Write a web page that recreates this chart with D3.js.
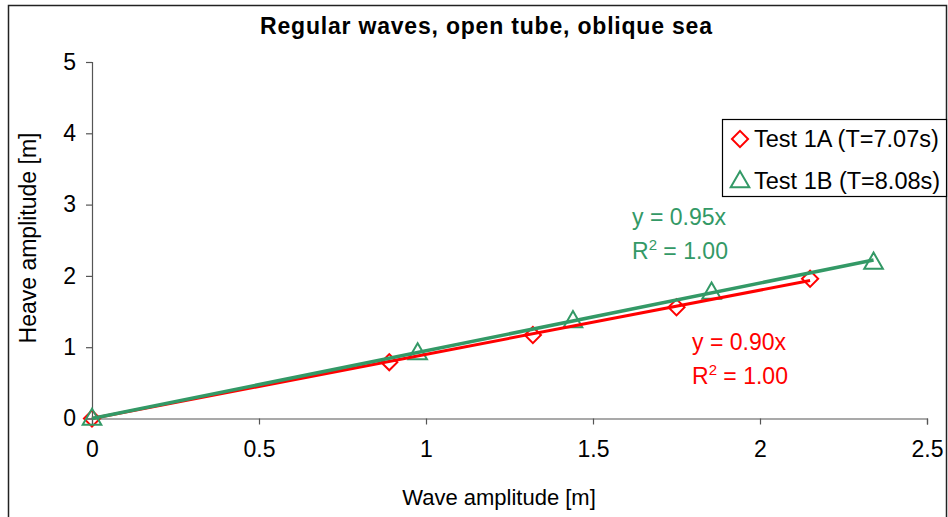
<!DOCTYPE html>
<html>
<head>
<meta charset="utf-8">
<script src="https://cdn.jsdelivr.net/npm/d3@7/dist/d3.min.js"></script>
<style>
  html, body { margin: 0; padding: 0; background: #fff; }
  svg { display: block; font-family: Arial, "Liberation Sans", sans-serif; }
</style>
</head>
<body>
<svg id="chart" width="948" height="517"></svg>
<script>
// Wave amplitude [m] and measured heave amplitude [m] for each test
const test1A_x = [0, 0.89, 1.32, 1.75, 2.15];
const test1A_y = [0, 0.79, 1.17, 1.56, 1.96];
const test1B_x = [0, 0.975, 1.44, 1.855, 2.34];
const test1B_y = [0, 0.92, 1.37, 1.77, 2.19];

// Linear fits through the origin
const slope1A = 0.90;
const slope1B = 0.95;

const xTicks = [0, 0.5, 1, 1.5, 2, 2.5];
const yTicks = [0, 1, 2, 3, 4, 5];

const legendLabels = ["Test 1A (T=7.07s)", "Test 1B (T=8.08s)"];
const titleText = "Regular waves, open tube, oblique sea";
const xTitle = "Wave amplitude [m]";
const yTitle = "Heave amplitude [m]";

const RED = "#ff0000";
const GREEN = "#339966";

const svg = d3.select("#chart");

// outer chart frame
svg.append("rect")
  .attr("x", 8.5).attr("y", 5.5)
  .attr("width", 938).attr("height", 530)
  .attr("fill", "#fff").attr("stroke", "#222").attr("stroke-width", 1.5);

const plot = { left: 92, right: 927, top: 62, bottom: 418.5 };

const x = d3.scaleLinear().domain([0, 2.5]).range([plot.left, plot.right]);
const y = d3.scaleLinear().domain([0, 5]).range([plot.bottom, plot.top]);

// axes
const xAxis = svg.append("g")
  .attr("transform", `translate(0,${plot.bottom})`)
  .call(d3.axisBottom(x).tickValues(xTicks).tickSize(6).tickPadding(12)
        .tickFormat(d3.format("~g")));
const yAxis = svg.append("g")
  .attr("transform", `translate(${plot.left},0)`)
  .call(d3.axisLeft(y).tickValues(yTicks).tickSize(6).tickPadding(10)
        .tickFormat(d3.format("~g")));

[xAxis, yAxis].forEach(a => {
  a.select(".domain").attr("stroke", "#555").attr("stroke-width", 1.2);
  a.selectAll(".tick line").attr("stroke", "#555").attr("stroke-width", 1.2);
  a.selectAll(".tick text")
    .attr("fill", "#000")
    .attr("font-size", 23)
    .attr("font-family", "Arial, 'Liberation Sans', sans-serif");
});
xAxis.selectAll(".tick text").attr("dy", "0.9em");

// title
svg.append("text")
  .attr("x", 486).attr("y", 34)
  .attr("text-anchor", "middle")
  .attr("font-size", 23).attr("font-weight", "bold")
  .attr("textLength", 452).attr("lengthAdjust", "spacing")
  .text(titleText);

// axis titles
svg.append("text")
  .attr("x", 499).attr("y", 505)
  .attr("text-anchor", "middle")
  .attr("font-size", 22)
  .text(xTitle);

svg.append("text")
  .attr("transform", "translate(36,238) rotate(-90)")
  .attr("text-anchor", "middle")
  .attr("font-size", 23)
  .text(yTitle);

// marker shapes
const diamond = d3.symbol().type(d3.symbolSquare).size(130);
const triangle = d3.symbol().type(d3.symbolTriangle).size(150);

function drawSeries(xs, ys, color, sym) {
  svg.append("g").selectAll("path")
    .data(xs.map((v, i) => [v, ys[i]]))
    .join("path")
    .attr("d", sym)
    .attr("transform", d => sym === diamond
      ? `translate(${x(d[0])},${y(d[1])}) rotate(45)`
      : `translate(${x(d[0])},${y(d[1]) + 1})`)
    .attr("fill", "none")
    .attr("stroke", color)
    .attr("stroke-width", 2);
}

drawSeries(test1A_x, test1A_y, RED, diamond);
drawSeries(test1B_x, test1B_y, GREEN, triangle);

// trend lines
function drawTrend(xs, slope, color, w) {
  const xMax = d3.max(xs);
  svg.append("line")
    .attr("x1", x(0)).attr("y1", y(0))
    .attr("x2", x(xMax)).attr("y2", y(slope * xMax))
    .attr("stroke", color).attr("stroke-width", w)
    .attr("stroke-linecap", "butt");
}
drawTrend(test1A_x, slope1A, RED, 3);
drawTrend(test1B_x, slope1B, GREEN, 3.5);

// trend line equations
function drawEquation(x0, yb, slope, color) {
  const g = svg.append("g").attr("fill", color).attr("font-size", 23);
  g.append("text").attr("x", x0).attr("y", yb)
    .text(`y = ${d3.format(".2f")(slope)}x`);
  const t = g.append("text").attr("x", x0).attr("y", yb + 34);
  t.append("tspan").text("R");
  t.append("tspan").attr("font-size", 15).attr("dy", -9).text("2");
  t.append("tspan").attr("dy", 9).text(" = 1.00");
}
drawEquation(632, 225, slope1B, GREEN);
drawEquation(692, 350, slope1A, RED);

// legend
const legend = svg.append("g");
legend.append("rect")
  .attr("x", 722.5).attr("y", 119.5)
  .attr("width", 224).attr("height", 77)
  .attr("fill", "#fff").attr("stroke", "#000").attr("stroke-width", 1.2);

const legendItems = [
  { label: legendLabels[0], color: RED, sym: diamond },
  { label: legendLabels[1], color: GREEN, sym: triangle }
];
legendItems.forEach((it, i) => {
  const cy = 139 + i * 42;
  legend.append("path")
    .attr("d", it.sym)
    .attr("transform", it.sym === diamond
      ? `translate(740,${cy}) rotate(45)` : `translate(740,${cy + 1})`)
    .attr("fill", "none").attr("stroke", it.color).attr("stroke-width", 2);
  legend.append("text")
    .attr("x", 754).attr("y", cy + 8)
    .attr("font-size", 23.5)
    .attr("fill", "#000")
    .text(it.label);
});
</script>
</body>
</html>
